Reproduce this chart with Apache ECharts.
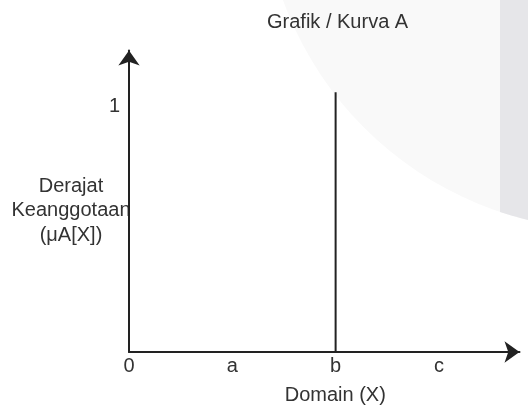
<!DOCTYPE html>
<html>
<head>
<meta charset="utf-8">
<script src="https://cdn.jsdelivr.net/npm/echarts@6/dist/echarts.min.js"></script>
<style>
html,body{margin:0;padding:0;background:#fff;}
#chart{width:528px;height:407px;}
</style>
</head>
<body>
<div id="chart"></div>
<script>
// ---- data ----
var titleText = 'Grafik / Kurva A';
var xTickLabels = ['0', 'a', 'b', 'c'];
var xTickValues = [0, 1, 2, 3];
var yTickLabels = ['1'];
var yTickValues = [1];
var xName = 'Domain (X)';
var yNameLines = ['Derajat', 'Keanggotaan', '(\u03bcA[X])'];
var curveX = [2, 2];
var curveY = [0, 1.06];
var xMax = 3.78;
var yMax = 1.23;

// ---- decoration (background shapes) ----
var bgCx = 611, bgCy = -119, bgR = 349, bandX = 500, W = 528;
var bandPts = [[bandX, 0], [W, 0]];
for (var px = W; px >= bandX; px -= 4) {
  bandPts.push([px, bgCy + Math.sqrt(bgR * bgR - (px - bgCx) * (px - bgCx))]);
}

var font = '"Liberation Sans", Arial, Helvetica, sans-serif';
var txt = '#333333';
var lineCol = '#222222';

var chart = echarts.init(document.getElementById('chart'), null, {renderer: 'canvas'});
chart.setOption({
  backgroundColor: '#ffffff',
  animation: false,
  title: {
    text: titleText,
    left: 267,
    top: 12,
    padding: 0,
    textStyle: {fontFamily: font, fontSize: 20, fontWeight: 'normal', color: txt}
  },
  graphic: [
    {type: 'circle', z: -10, silent: true, shape: {cx: bgCx, cy: bgCy, r: bgR}, style: {fill: '#f9f9f9'}},
    {type: 'polygon', z: -9, silent: true, shape: {points: bandPts}, style: {fill: '#e6e6e9'}}
  ],
  grid: {left: 129, right: 8.5, top: 50.5, bottom: 55, outerBoundsMode: 'none'},
  xAxis: {
    type: 'value',
    min: 0,
    max: xMax,
    name: xName,
    nameLocation: 'middle',
    nameGap: 43,
    nameMoveOverlap: false,
    nameTextStyle: {fontFamily: font, fontSize: 20, color: txt, align: 'center', verticalAlign: 'middle', padding: [0, 0, 0, 22]},
    axisLine: {show: true, symbol: ['none', 'arrow'], symbolSize: [16, 15], lineStyle: {color: lineCol, width: 2}},
    axisTick: {show: false},
    splitLine: {show: false},
    axisLabel: {
      customValues: xTickValues,
      margin: 4,
      fontFamily: font, fontSize: 20, color: txt,
      formatter: function (v) { var i = xTickValues.indexOf(v); return i >= 0 ? xTickLabels[i] : ''; }
    }
  },
  yAxis: {
    type: 'value',
    min: 0,
    max: yMax,
    name: '{s| }\n' + yNameLines.join('\n'),
    nameLocation: 'middle',
    nameRotate: 0,
    nameGap: 58,
    nameMoveOverlap: false,
    nameTextStyle: {
      fontFamily: font, fontSize: 20, color: txt, align: 'center', verticalAlign: 'middle', lineHeight: 24.5,
      rich: {s: {fontSize: 4, lineHeight: 19}}
    },
    axisLine: {show: true, symbol: ['none', 'arrow'], symbolSize: [16, 15], lineStyle: {color: lineCol, width: 2}},
    axisTick: {show: false},
    splitLine: {show: false},
    axisLabel: {
      customValues: yTickValues,
      margin: 9,
      fontFamily: font, fontSize: 20, color: txt,
      formatter: function (v) { var i = yTickValues.indexOf(v); return i >= 0 ? yTickLabels[i] : ''; }
    }
  },
  series: [{
    type: 'line',
    data: curveX.map(function (x, i) { return [x, curveY[i]]; }),
    symbol: 'none',
    lineStyle: {color: lineCol, width: 2},
    silent: true
  }]
});
</script>
</body>
</html>
